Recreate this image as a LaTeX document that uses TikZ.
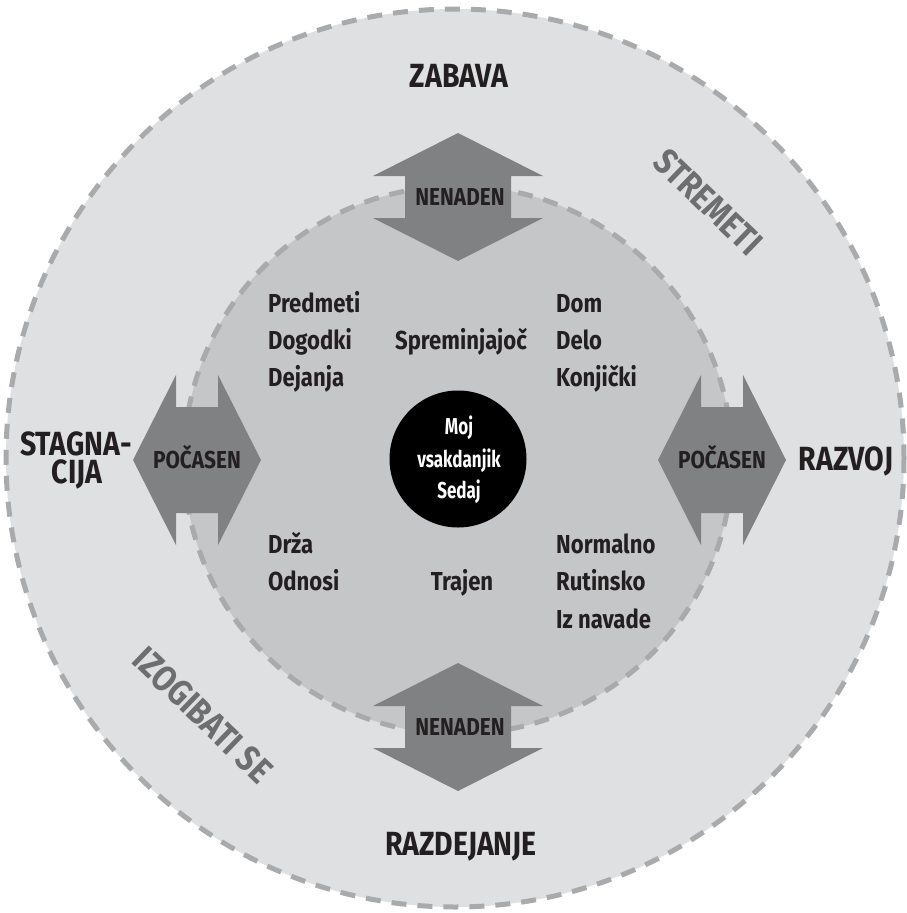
\documentclass[tikz,border=0pt]{standalone}
\usepackage{fontspec}
\setmainfont{Fira Sans}[FakeStretch=0.85]
\newfontfamily\narrowfont{Fira Sans}[FakeStretch=0.74]
\definecolor{outerfill}{HTML}{DFE0E2}
\definecolor{innerfill}{HTML}{C5C6C8}
\definecolor{dashgray}{HTML}{A9AAAC}
\definecolor{arrowgray}{HTML}{808183}
\definecolor{labelgray}{HTML}{6D6E70}
\definecolor{txt}{HTML}{231F20}
\begin{document}
\begin{tikzpicture}[x=1pt,y=-1pt,
  ring/.style={draw=dashgray,line width=5pt,dash pattern=on 15pt off 11pt},
  inlbl/.style={inner sep=0pt,anchor=base west,text=txt,font=\fontsize{26}{30}\selectfont\bfseries},
  inlblc/.style={inner sep=0pt,anchor=base,text=txt,font=\fontsize{26}{30}\selectfont\bfseries},
  biglbl/.style={inner sep=0pt,anchor=base,text=txt,font=\fontsize{33.5}{36}\selectfont\bfseries},
  arrlbl/.style={inner sep=0pt,anchor=base,text=txt,font=\fontsize{24.5}{28}\selectfont\bfseries},
  ctrlbl/.style={inner sep=0pt,anchor=base,text=white,font=\fontsize{23}{26}\narrowfont\bfseries},
  arclbl/.style={inner sep=0pt,anchor=center,text=labelgray,rotate=-44,font=\fontsize{36}{40}\selectfont\bfseries},
  dblarrow/.pic={\fill[arrowgray] (-64,0) -- (-21,85) -- (-21,53) -- (21,53) -- (21,85) -- (64,0) -- (21,-85) -- (21,-53) -- (-21,-53) -- (-21,-85) -- cycle;}
]
\useasboundingbox (0,0) rectangle (906,913);
% circles
\path[fill=outerfill] (455,458) circle[radius=449];
\path[ring] (455,458) circle[radius=449];
\path[fill=innerfill] (458,460) circle[radius=274];
\path[ring] (458,460) circle[radius=274];
% arrows
\pic[rotate=90] at (458,197) {dblarrow};
\pic[rotate=90] at (458,727) {dblarrow};
\pic at (197,460) {dblarrow};
\pic at (722,460) {dblarrow};
% center
\node[circle,fill=black,minimum size=137pt,inner sep=0pt] (core) at (458,459) {};
\node[ctrlbl] (c1) at (459,434) {Moj};
\node[ctrlbl] (c2) at (459,467) {vsakdanjik};
\node[ctrlbl] (c3) at (459,498) {Sedaj};
% arrow labels
\node[arrlbl] (nt) at (460,205) {NENADEN};
\node[arrlbl] (nb) at (460,735) {NENADEN};
\node[arrlbl] (pl) at (197,468) {POČASEN};
\node[arrlbl] (pr) at (722,468) {POČASEN};
% outer labels
\node[biglbl] (zab) at (459,87) {ZABAVA};
\node[biglbl] (raz) at (461,855) {RAZDEJANJE};
\node[biglbl] (stag1) at (76,455) {STAGNA-};
\node[biglbl] (stag2) at (77,483) {CIJA};
\node[biglbl] (rzv) at (846,470) {RAZVOJ};
\node[arclbl] (strem) at (708,202) {STREMETI};
\node[arclbl] (izog) at (203,715) {IZOGIBATI SE};
% inner labels
\node[inlbl] (l1) at (268,312) {Predmeti};
\node[inlbl] (l2) at (268,349) {Dogodki};
\node[inlbl] (l3) at (268,386) {Dejanja};
\node[inlbl] (l4) at (268,553) {Drža};
\node[inlbl] (l5) at (268,590) {Odnosi};
\node[inlbl] (r1) at (556,312) {Dom};
\node[inlbl] (r2) at (556,349) {Delo};
\node[inlbl] (r3) at (556,386) {Konjički};
\node[inlbl] (r4) at (556,553) {Normalno};
\node[inlbl] (r5) at (556,590) {Rutinsko};
\node[inlbl] (r6) at (556,628) {Iz navade};
\node[inlblc] (m1) at (461,349) {Spreminjajoč};
\node[inlblc] (m2) at (462,590) {Trajen};
\end{tikzpicture}
\end{document}
